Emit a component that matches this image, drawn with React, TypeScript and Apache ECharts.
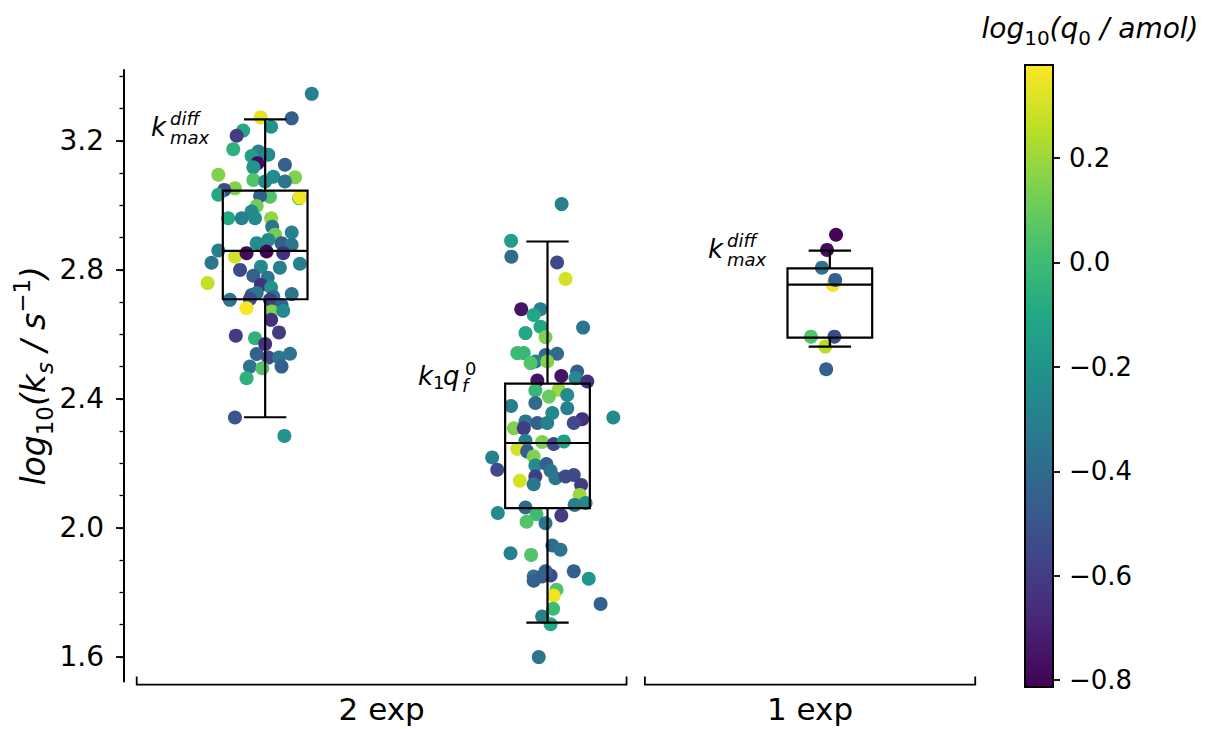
import React, { useEffect, useRef } from 'react';
import * as echarts from 'echarts';

// ---------- data ----------
const groupLabels = ['2 exp', '1 exp'];
// box positions on the x axis (0: k_max^diff 2 exp, 1: k1 qf0 2 exp, 2: k_max^diff 1 exp)
const boxPositions = [0, 1, 2];
const boxLow = [2.343, 1.706, 2.562];
const boxQ1 = [2.709, 2.061, 2.59];
const boxMedian = [2.859, 2.263, 2.754];
const boxQ3 = [3.046, 2.447, 2.805];
const boxHigh = [3.267, 2.888, 2.86];

// points: [jitter, log10(ks), log10(q0)]
const kmaxTwoExp = [
  [0.165, 3.346, -0.3], [-0.016, 3.273, 0.33], [0.094, 3.27, -0.45], [0.021, 3.244, -0.2],
  [-0.078, 3.232, -0.1], [-0.101, 3.216, -0.6], [-0.113, 3.174, -0.05], [-0.024, 3.167, -0.3],
  [0.011, 3.157, -0.25], [-0.048, 3.153, -0.15], [-0.027, 3.131, -0.78], [0.07, 3.126, -0.45],
  [-0.042, 3.118, -0.2], [-0.166, 3.095, 0.15], [0.029, 3.089, -0.25], [0.106, 3.087, 0.15],
  [-0.042, 3.079, 0.05], [0.07, 3.074, -0.35], [0.0, 3.074, -0.25], [-0.107, 3.053, 0.15],
  [-0.145, 3.048, -0.55], [-0.166, 3.033, -0.1], [0.12, 3.022, 0.1], [0.123, 3.025, 0.35],
  [0.017, 3.027, 0.05], [-0.018, 3.029, -0.45], [-0.03, 2.998, 0.12], [-0.048, 2.981, -0.25],
  [-0.131, 2.96, -0.1], [-0.083, 2.96, -0.3], [-0.036, 2.96, -0.25], [0.021, 2.96, 0.18],
  [0.025, 2.934, -0.35], [0.094, 2.916, -0.3], [0.035, 2.909, 0.12], [0.011, 2.893, -0.25],
  [-0.03, 2.883, -0.25], [0.058, 2.883, -0.45], [0.094, 2.878, -0.35], [-0.166, 2.86, -0.3],
  [-0.107, 2.841, 0.3], [-0.066, 2.852, -0.78], [0.005, 2.857, -0.8], [0.064, 2.852, -0.65],
  [-0.19, 2.822, -0.35], [0.123, 2.819, -0.3], [-0.089, 2.8, -0.55], [-0.015, 2.81, -0.25],
  [0.052, 2.807, -0.3], [-0.204, 2.759, 0.27], [-0.042, 2.782, -0.45], [0.009, 2.776, -0.35],
  [-0.015, 2.753, -0.65], [0.021, 2.745, -0.2], [-0.048, 2.722, -0.45], [-0.03, 2.728, -0.35],
  [0.029, 2.717, -0.4], [0.094, 2.725, -0.35], [-0.125, 2.707, -0.35], [-0.054, 2.71, -0.55],
  [0.017, 2.707, -0.6], [0.058, 2.691, -0.45], [-0.066, 2.681, 0.37], [0.023, 2.671, 0.15],
  [0.064, 2.673, -0.25], [0.021, 2.645, -0.65], [-0.104, 2.596, -0.6], [0.049, 2.606, -0.6],
  [-0.036, 2.588, -0.05], [0.0, 2.57, -0.65], [-0.03, 2.539, -0.45], [0.011, 2.528, -0.55],
  [0.049, 2.528, -0.35], [0.088, 2.54, -0.35], [-0.054, 2.5, -0.35], [-0.01, 2.495, 0.05],
  [0.058, 2.5, -0.45], [-0.066, 2.464, -0.05], [-0.107, 2.342, -0.5], [0.068, 2.285, -0.2],
];

const k1qTwoExp = [
  [0.05, 3.004, -0.3], [-0.129, 2.89, -0.15], [-0.128, 2.841, -0.4], [0.034, 2.823, -0.55],
  [0.064, 2.772, 0.3], [-0.093, 2.678, -0.75], [-0.025, 2.678, -0.3], [-0.049, 2.66, -0.1],
  [-0.025, 2.624, -0.1], [0.126, 2.621, -0.35], [-0.078, 2.604, -0.1], [-0.007, 2.591, 0.15],
  [-0.107, 2.542, 0.0], [-0.084, 2.542, -0.02], [-0.007, 2.536, -0.4], [0.034, 2.54, -0.4],
  [-0.043, 2.516, -0.3], [-0.06, 2.511, 0.05], [-0.001, 2.516, 0.15], [0.105, 2.485, -0.45],
  [0.099, 2.464, -0.25], [0.049, 2.471, -0.75], [-0.036, 2.457, -0.75], [0.141, 2.454, -0.65],
  [0.04, 2.428, 0.2], [-0.043, 2.426, -0.02], [0.005, 2.407, 0.1], [0.07, 2.412, -0.25],
  [-0.043, 2.387, -0.4], [0.07, 2.371, -0.3], [-0.129, 2.378, -0.3], [0.017, 2.356, -0.25],
  [0.233, 2.342, -0.25], [-0.078, 2.33, -0.35], [-0.036, 2.325, -0.45], [-0.001, 2.325, -0.3],
  [0.123, 2.337, -0.65], [0.093, 2.325, -0.55], [-0.119, 2.309, 0.15], [-0.084, 2.309, -0.6],
  [-0.078, 2.27, -0.3], [-0.019, 2.266, 0.15], [0.022, 2.26, -0.55], [0.058, 2.268, -0.15],
  [-0.107, 2.245, 0.3], [-0.072, 2.237, -0.45], [-0.196, 2.218, -0.3], [-0.049, 2.221, 0.15],
  [-0.178, 2.18, -0.55], [-0.043, 2.193, -0.25], [-0.004, 2.198, -0.45], [0.011, 2.177, -0.35],
  [-0.043, 2.159, -0.6], [0.028, 2.154, -0.35], [0.064, 2.159, -0.55], [0.093, 2.164, -0.55],
  [-0.098, 2.146, 0.3], [-0.049, 2.135, -0.35], [0.119, 2.133, -0.6], [0.114, 2.102, 0.2],
  [0.135, 2.077, -0.25], [0.096, 2.071, -0.3], [-0.078, 2.063, -0.4], [-0.176, 2.046, -0.25],
  [-0.039, 2.042, 0.0], [0.049, 2.038, -0.6], [-0.074, 2.019, 0.05], [-0.007, 2.014, -0.35],
  [0.017, 1.945, -0.4], [0.046, 1.932, -0.35], [-0.131, 1.921, -0.3], [-0.058, 1.916, 0.05],
  [0.093, 1.865, -0.45], [0.146, 1.842, -0.2], [-0.049, 1.849, -0.35], [-0.049, 1.836, -0.45],
  [-0.019, 1.849, -0.45], [0.011, 1.852, -0.55], [-0.007, 1.865, -0.45], [0.032, 1.808, 0.05],
  [0.022, 1.79, 0.35], [0.02, 1.749, 0.0], [0.188, 1.764, -0.45], [-0.019, 1.725, -0.3],
  [0.011, 1.701, -0.1], [-0.031, 1.599, -0.35],
];

const kmaxOneExp = [
  [0.022, 2.909, -0.8], [-0.01, 2.862, -0.78], [-0.028, 2.807, -0.35], [0.011, 2.753, 0.35],
  [0.019, 2.769, -0.45], [-0.067, 2.593, 0.05], [0.016, 2.593, -0.55], [-0.016, 2.562, 0.25],
  [-0.013, 2.492, -0.45],
];

const yMin = 1.523;
const yMax = 3.42;
const yTicks = [1.6, 2.0, 2.4, 2.8, 3.2];
const yMinorTicks = [1.6, 1.7, 1.8, 1.9, 2.0, 2.1, 2.2, 2.3, 2.4, 2.5, 2.6, 2.7, 2.8, 2.9, 3.0, 3.1, 3.2, 3.3, 3.4];
const colorMin = -0.813;
const colorMax = 0.378;
const colorTicks = [-0.8, -0.6, -0.4, -0.2, 0.0, 0.2];
const bracketFrom = [-0.455, 1.345];
const bracketTo = [1.28, 2.515];

const viridis = ['#440154', '#482475', '#414487', '#355f8d', '#2a788e', '#21918c', '#22a884', '#44bf70', '#7ad151', '#bddf26', '#fde725'];
const FONT = 'DejaVu Sans';
const BOX_WIDTH = 0.3;

export default function App() {
  const ref = useRef<HTMLDivElement>(null);
  useEffect(() => {
    if (!ref.current) return;
    const chart = echarts.init(ref.current, null, { renderer: 'svg' });

    const groups = [kmaxTwoExp, k1qTwoExp, kmaxOneExp];
    const points: number[][] = [];
    groups.forEach((g, i) => g.forEach((p) => points.push([boxPositions[i] + p[0], p[1], p[2]])));
    const boxes = boxPositions.map((x, i) => [x, boxLow[i], boxQ1[i], boxMedian[i], boxQ3[i], boxHigh[i]]);

    const italic = { fontFamily: FONT, fontStyle: 'italic', color: '#000' };
    const upright = { fontFamily: FONT, color: '#000' };

    chart.setOption({
      animation: false,
      backgroundColor: '#fff',
      grid: [
        { left: 124, top: 70, width: 847, height: 611.6, outerBoundsMode: 'none', containLabel: false },
        { left: 1025, top: 65, width: 28, height: 622, outerBoundsMode: 'none', containLabel: false },
      ],
      xAxis: [
        { type: 'value', gridIndex: 0, min: -0.5, max: 2.5, show: false },
        { type: 'value', gridIndex: 1, min: 0, max: 1, show: false },
      ],
      yAxis: [
        {
          type: 'value', gridIndex: 0, min: yMin, max: yMax, position: 'left',
          axisLine: { show: true, onZero: false, lineStyle: { color: '#000', width: 2 } },
          axisTick: { show: true, length: 8, lineStyle: { color: '#000', width: 1.8 }, customValues: yTicks },
          axisLabel: {
            customValues: yTicks, fontSize: 28, fontFamily: FONT, color: '#000', margin: 20,
            formatter: (v: number) => v.toFixed(1),
          },
          splitLine: { show: false },
          name: '{a|log}{n|10}{a|(k}{s|s}{a| / s}{p|−1}{a|)}',
          nameLocation: 'middle', nameGap: 68, nameRotate: 90, nameMoveOverlap: false,
          nameTextStyle: {
            rich: {
              a: { ...italic, fontSize: 33, lineHeight: 46 },
              n: { ...upright, fontSize: 23, lineHeight: 30, verticalAlign: 'bottom' },
              s: { ...italic, fontSize: 23, lineHeight: 30, verticalAlign: 'bottom' },
              p: { ...upright, fontSize: 23, lineHeight: 20, verticalAlign: 'top' },
            },
          },
        },
        {
          type: 'value', gridIndex: 0, min: yMin, max: yMax, position: 'left', offset: 0,
          axisLine: { show: false, onZero: false },
          axisTick: { show: true, length: 4.5, lineStyle: { color: '#000', width: 1.3 }, customValues: yMinorTicks },
          axisLabel: { show: false },
          splitLine: { show: false },
        },
        {
          type: 'value', gridIndex: 1, min: colorMin, max: colorMax, position: 'right',
          axisLine: { show: false, onZero: false },
          axisTick: { show: true, length: 7, lineStyle: { color: '#000', width: 1.8 }, customValues: colorTicks },
          axisLabel: {
            customValues: colorTicks, fontSize: 26, fontFamily: FONT, color: '#000', margin: 16,
            formatter: (v: number) => (v < -1e-9 ? '−' + Math.abs(v).toFixed(1) : Math.abs(v).toFixed(1)),
          },
          splitLine: { show: false },
        },
      ],
      visualMap: {
        show: false, type: 'continuous', dimension: 2, min: colorMin, max: colorMax,
        seriesIndex: 0, inRange: { color: viridis },
      },
      series: [
        {
          type: 'scatter', xAxisIndex: 0, yAxisIndex: 0, data: points,
          symbol: 'circle', symbolSize: 14, itemStyle: { opacity: 1 }, z: 2,
        },
        {
          type: 'custom', xAxisIndex: 0, yAxisIndex: 0, data: boxes, z: 3,
          encode: { x: 0, y: [1, 2, 3, 4, 5] },
          renderItem: (params: any, api: any) => {
            const x = api.value(0);
            const lo = api.coord([x, api.value(1)]);
            const q1 = api.coord([x, api.value(2)]);
            const md = api.coord([x, api.value(3)]);
            const q3 = api.coord([x, api.value(4)]);
            const hi = api.coord([x, api.value(5)]);
            const w = api.size([BOX_WIDTH, 0])[0];
            const cx = lo[0];
            const hw = w / 2;
            const cw = w / 4;
            const st = { stroke: '#000', lineWidth: 2.2, fill: 'none' };
            const ln = (x1: number, y1: number, x2: number, y2: number) => ({
              type: 'line', shape: { x1, y1, x2, y2 }, style: st,
            });
            return {
              type: 'group',
              children: [
                { type: 'rect', shape: { x: cx - hw, y: q3[1], width: w, height: q1[1] - q3[1] }, style: st },
                ln(cx - hw, md[1], cx + hw, md[1]),
                ln(cx, q3[1], cx, hi[1]),
                ln(cx, q1[1], cx, lo[1]),
                ln(cx - cw, hi[1], cx + cw, hi[1]),
                ln(cx - cw, lo[1], cx + cw, lo[1]),
              ],
            };
          },
        },
        {
          type: 'custom', xAxisIndex: 1, yAxisIndex: 2, data: [[0, colorMin, colorMax]], z: 3,
          encode: { x: 0, y: [1, 2] },
          renderItem: (params: any, api: any) => {
            const top = api.coord([0, api.value(2)]);
            const bot = api.coord([1, api.value(1)]);
            const stops = viridis.map((c, i) => ({ offset: 1 - i / (viridis.length - 1), color: c })).reverse();
            return {
              type: 'rect',
              shape: { x: top[0], y: top[1], width: bot[0] - top[0], height: bot[1] - top[1] },
              style: {
                fill: new echarts.graphic.LinearGradient(0, 0, 0, 1, stops),
                stroke: '#000', lineWidth: 2,
              },
            };
          },
        },
      ],
    });

    // decorations positioned from the axes
    const yBottom = chart.convertToPixel({ yAxisIndex: 0 }, yMin) as number;
    const bracketY = yBottom + 3;
    const graphics: any[] = [];
    groupLabels.forEach((label, i) => {
      const x1 = chart.convertToPixel({ xAxisIndex: 0 }, bracketFrom[i]) as number;
      const x2 = chart.convertToPixel({ xAxisIndex: 0 }, bracketTo[i]) as number;
      graphics.push({
        type: 'polyline',
        shape: { points: [[x1, bracketY - 8], [x1, bracketY], [x2, bracketY], [x2, bracketY - 8]] },
        style: { stroke: '#000', lineWidth: 1.8, fill: 'none' },
      });
      graphics.push({
        type: 'text', x: (x1 + x2) / 2, y: bracketY + 24,
        style: { text: label, font: `31px "${FONT}"`, fill: '#000', align: 'center', verticalAlign: 'middle' },
      });
    });

    const kmaxLabel = (x: number, base: number) => [
      { type: 'text', x, y: base - 0.346 * 26, style: { text: 'k', font: `italic 26px "${FONT}"`, fill: '#000', verticalAlign: 'middle' } },
      { type: 'text', x: x + 19, y: base - 11 - 0.346 * 18, style: { text: 'diff', font: `italic 18px "${FONT}"`, fill: '#000', verticalAlign: 'middle' } },
      { type: 'text', x: x + 19, y: base + 8 - 0.346 * 18, style: { text: 'max', font: `italic 18px "${FONT}"`, fill: '#000', verticalAlign: 'middle' } },
    ];
    graphics.push(...kmaxLabel(151, 136));
    graphics.push(...kmaxLabel(708, 258));
    graphics.push(
      { type: 'text', x: 418, y: 385 - 0.346 * 26, style: { text: 'k', font: `italic 26px "${FONT}"`, fill: '#000', verticalAlign: 'middle' } },
      { type: 'text', x: 433, y: 389 - 0.346 * 18, style: { text: '1', font: `18px "${FONT}"`, fill: '#000', verticalAlign: 'middle' } },
      { type: 'text', x: 443, y: 385 - 0.346 * 26, style: { text: 'q', font: `italic 26px "${FONT}"`, fill: '#000', verticalAlign: 'middle' } },
      { type: 'text', x: 462, y: 392 - 0.346 * 18, style: { text: 'f', font: `italic 18px "${FONT}"`, fill: '#000', verticalAlign: 'middle' } },
      { type: 'text', x: 465, y: 375 - 0.346 * 18, style: { text: '0', font: `18px "${FONT}"`, fill: '#000', verticalAlign: 'middle' } },
    );
    graphics.push({
      type: 'text', x: 1090, y: 28,
      style: {
        text: '{a|log}{n|10}{a|(q}{n|0}{a| / amol)}',
        align: 'center', verticalAlign: 'middle',
        rich: {
          a: { ...italic, fill: '#000', fontSize: 28, lineHeight: 40 },
          n: { ...upright, fill: '#000', fontSize: 20, lineHeight: 26, verticalAlign: 'bottom' },
        },
      },
    });
    chart.setOption({ graphic: graphics });

    return () => chart.dispose();
  }, []);
  return <div ref={ref} style={{ position: 'fixed', left: 0, top: 0, width: 1209, height: 729, background: '#fff' }} />;
}
